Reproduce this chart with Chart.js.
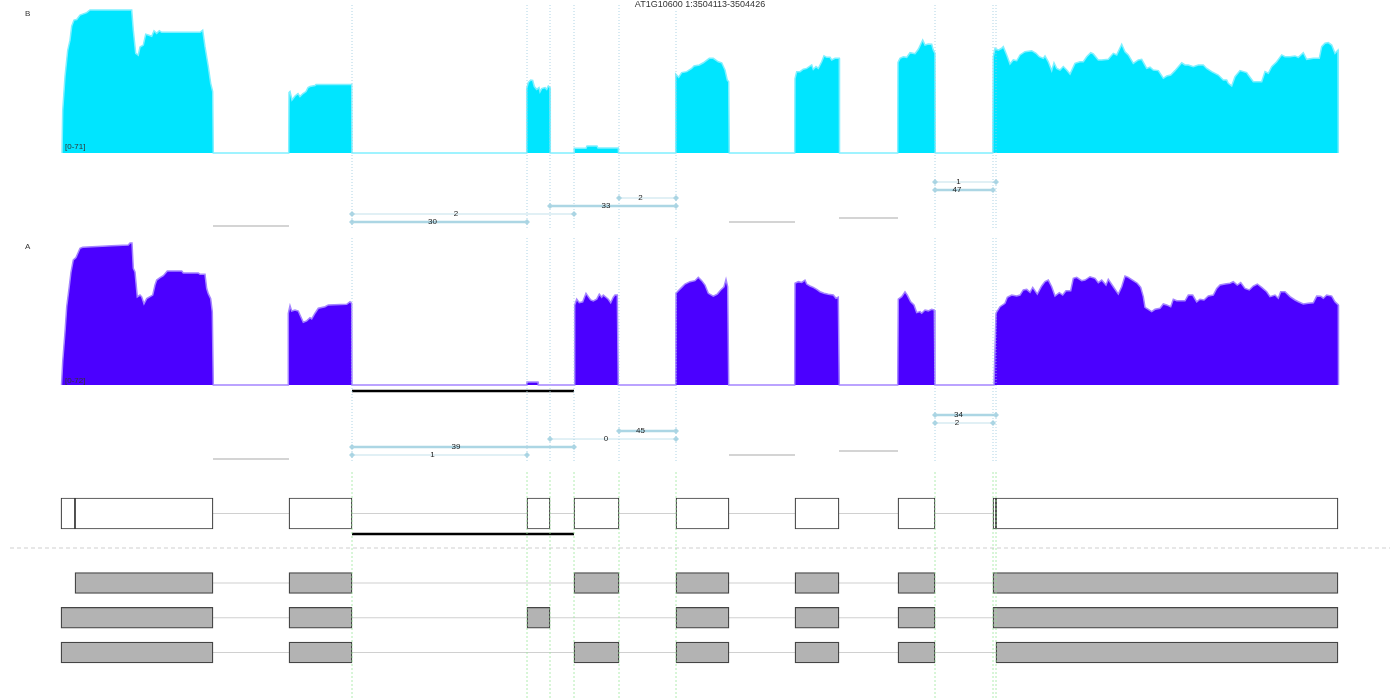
<!DOCTYPE html>
<html><head><meta charset="utf-8">
<script src="https://cdn.jsdelivr.net/npm/chart.js@4"></script>
<style>html,body{margin:0;padding:0;background:#fff}#wrap{position:relative;width:1400px;height:700px}</style>
</head><body><div id="wrap"><canvas id="c" width="1400" height="700"></canvas></div>
<script>
// ---------------- DATA ----------------
const titleText = 'AT1G10600 1:3504113-3504426';
const trackNames = ['B', 'A'];
const trackRanges = ['[0-71]', '[0-72]'];

// coverage profiles: [position, depth]
const covB = [
[62,0],[62.7,21],[65,38],[67.7,51],[70,56],[71.7,63],[74,66],[76.7,66.3],[80,68.5],[86.7,69.7],[90,71],[131.7,71],[133.3,61],[135.7,49.5],[138.3,48.6],[140,52.6],[143.3,53.6],[145.7,59],[148.3,58.6],[151.7,58],[154,60.7],[156.7,59.4],[159.3,60.7],[161.7,59.9],[200,59.9],[202.7,61],[205,52.8],[208.3,42.9],[210.7,34.6],[212.7,30.5],[213.3,0],
[288.7,0],[289,30],[290,30.5],[292,26.3],[295,28.3],[298,29.5],[300,28],[303,29.5],[306,30.5],[308,32.5],[310,33],[315,33.5],[316,34],[351.7,34],[352,0],
[526.5,0],[526.7,32],[528.3,35],[530.7,36.2],[532.7,36],[534.3,33],[536.7,31.6],[539,32.5],[540,30.4],[541.7,32],[545,32.5],[546.7,31.6],[548.3,33.3],[550,32.5],[550.3,0],
[574,0],[574.2,2.3],[586,2.3],[587,3.5],[597,3.5],[598,2.5],[618.3,2.5],[618.5,0],
[675.5,0],[675.7,39.2],[678.7,37.6],[681.7,39.9],[686.7,40.4],[691.7,42],[694,43.2],[699.3,43.7],[703.3,44.8],[709.3,47],[713.3,47],[718.3,45.3],[721.7,44.8],[725,41.2],[727.3,36.2],[728.7,35.4],[729.3,0],
[794.7,0],[795,37],[796.7,40.4],[800,40.4],[803.3,41.6],[806.7,42],[811.7,43.7],[813.3,41.5],[816,42.9],[818.3,42],[821.7,45.3],[824,48.2],[826.7,47.5],[830,47.5],[831.7,46.2],[835,47],[839.3,47],[839.5,0],
[897.7,0],[898,45],[900,47],[903.3,47.8],[906.7,47.5],[910,49.8],[915,49.3],[918.3,51.5],[922.7,56.1],[925,53.6],[928.3,54.1],[931.7,54],[933.3,51.1],[935,49.5],[935.3,0],
[992.7,0],[993.3,47.8],[995,52],[998.3,51.1],[1001.7,52],[1003.3,52.8],[1006.7,48.7],[1010,44.2],[1013.3,46.2],[1016.7,45.8],[1020,48.7],[1025,50.3],[1031.7,50.8],[1036,49.5],[1039.3,47.8],[1043.3,47],[1045,48.2],[1048.3,45.3],[1051.7,40.9],[1054,44.8],[1056.7,42],[1060,41.2],[1063.3,42.9],[1066.7,41.2],[1070,39.2],[1075,44.5],[1080,45.3],[1083.3,45.3],[1086.7,47.8],[1090.7,49.8],[1093.3,49.2],[1098.3,46.2],[1101.7,46.2],[1108.3,46.5],[1113.3,49.5],[1116.7,48.7],[1121.7,54],[1125,50.3],[1128.3,48.7],[1133.3,44.5],[1138.3,46.2],[1141.7,46.5],[1146.7,42],[1150,42.6],[1153.3,41.2],[1158.3,40.9],[1163.3,37.1],[1166.7,38.2],[1170.7,38.7],[1175,40.9],[1181.7,44.8],[1185,43.7],[1188.3,43.7],[1193.3,42.9],[1198.3,43.7],[1203.3,43.7],[1206.7,42],[1211.7,40.4],[1218.3,38.7],[1223.3,36.2],[1226.7,36.2],[1228.3,34.6],[1231.7,33.3],[1235,37.9],[1240,40.9],[1246.7,39.9],[1248.3,38.7],[1253.3,35.4],[1261.7,35.4],[1265,40.4],[1268.3,39.6],[1271.7,42.9],[1276.7,45.3],[1281.7,48.7],[1285,47.8],[1290,47.8],[1295,48.2],[1298.3,47.5],[1303.3,49.8],[1306.7,46.5],[1313.3,47],[1319.3,47],[1321.7,52.8],[1325,54.5],[1328.3,54.8],[1331.7,53.6],[1335,49.5],[1338,51.1],[1338.3,0]
];
const covA = [
[61.5,0],[62.7,11.8],[65,26.9],[66.7,39.6],[69,48.9],[71,57.3],[73.3,63.4],[76,64.6],[80,69.3],[82.7,69.8],[111.7,70.6],[128.3,71],[130,72],[132,72],[133.3,59.2],[135,57.3],[137.3,44.7],[140,45.6],[141.7,44.7],[144,41.2],[146.7,43.8],[152.7,45.6],[155,50.7],[156.7,53.2],[160,54.4],[163.3,55.4],[167.3,57.8],[181.7,57.8],[183.3,56.8],[198.3,56.8],[200,56.1],[205,56.1],[206.7,48.9],[208.3,46.3],[210.7,43.8],[212.3,37.1],[213.3,0],
[288,0],[288.3,36.4],[290,40.2],[291.7,37.5],[295,38],[298.3,37.5],[300,35.5],[303.3,31.8],[306.7,32.5],[310,34.1],[311.7,33.5],[315,36.4],[318.3,38.9],[325,39.7],[328.3,40.6],[346.7,40.9],[350,42.2],[351.7,41.4],[352,0],
[526.7,0],[527,1.5],[538,1.5],[538.3,0],
[574.3,0],[574.7,40.6],[576.7,43.5],[579.3,41.7],[582.7,42.2],[586,46.5],[588.3,44.8],[590.7,43.1],[593.3,42.6],[596.7,43.5],[599.3,46.1],[601.7,44.5],[603.3,45.6],[606,44.5],[608.3,43.5],[610.7,41.7],[613.3,44.5],[615,45.6],[617.3,45.6],[618.3,0],
[675.7,0],[676,46.5],[678.3,47.8],[681.7,49.5],[685,51.2],[690,52.4],[695,52.9],[698.3,54.6],[701.7,52.9],[705,50.7],[708.3,46.5],[713.3,45.1],[717.3,46.1],[720.7,48.2],[724,49.8],[726,53.6],[727.7,49.8],[728.7,0],
[794.7,0],[795,51.6],[798.3,52.4],[801.7,52],[805,53.2],[806.7,51.2],[810,50.2],[813.3,49.5],[816.7,48.5],[820,47.3],[824,46.5],[828.3,46],[833.3,45.6],[836,44],[838.3,44.5],[839.3,0],
[897.7,0],[898.3,43.5],[901.7,44.8],[905,47.3],[907.3,45.6],[910.7,42.2],[914,40.6],[916.7,36.7],[920,37.2],[921.7,36.4],[925,38],[928.3,37.6],[931.7,38.4],[934.3,38],[935,0],
[994,0],[996,36.4],[1000,39.7],[1005,41.4],[1007.3,44.5],[1011.7,45.6],[1016.7,45.1],[1020,45.6],[1023.3,48.2],[1026.7,48.5],[1030,47],[1032.7,49.5],[1037.3,46.1],[1041.7,50.2],[1045,52.4],[1048.3,53.2],[1051.7,49.8],[1055,45.1],[1059.3,46.8],[1062.7,45.6],[1066,47.8],[1070.7,47.8],[1073.3,54.1],[1076.7,54.6],[1081.7,52.9],[1085,53.2],[1090,54.9],[1095,54.1],[1098.3,51.9],[1101.7,53.2],[1106,50.7],[1108.3,53.6],[1113.3,49.8],[1118.3,46.1],[1121.7,49.8],[1125,55.3],[1128.3,54.6],[1133.3,52.9],[1137.3,51.6],[1140.7,49.5],[1143.3,44.8],[1145,39.4],[1148.3,38.4],[1151.7,37.2],[1155,38.4],[1160,38.9],[1163.3,41.1],[1166.7,40.6],[1170.7,39.7],[1173.3,43.5],[1176.7,42.7],[1185,42.7],[1188.3,45.6],[1192.7,45.6],[1196.7,42.2],[1200,43.5],[1204,43.1],[1208.3,45.1],[1213.3,45.6],[1216.7,49],[1220,50.7],[1225,51.2],[1230,51.6],[1233.3,52.4],[1237.3,50.7],[1240.7,51.9],[1245,49],[1249.3,48.2],[1253.3,50.2],[1257.3,51.2],[1261.7,49.5],[1266.7,47.3],[1270,44.8],[1275,45.6],[1278.3,44],[1280.7,47.3],[1285,47.3],[1290,44.8],[1295,43.1],[1298.3,42.2],[1303.3,41.1],[1308.3,41.4],[1313.3,41.7],[1316.7,45.1],[1320.7,45],[1323.3,44],[1326.7,45.6],[1331.7,45.1],[1335,42.2],[1338.3,40.6],[1338.5,0]
];

// splice junctions (listed top level to bottom level) and read counts per sample
const junctions = [[935,996],[935,993],[619,676],[550,676],[352,574],[352,527]];
const juncCountsB = [1, 47, 2, 33, 2, 30];
const juncCountsA = [34, 2, 45, 0, 39, 1];
// unsupported intron placeholders in junction tracks
const gapIntrons = [[213,289],[729,795],[839,898]];
const gapLevels = [5.5, 5.0, 4.5];

// gene model and transcripts (exon [start,end])
const modelExons = [[61,75],[75,213],[289,352],[527,550],[574,619],[676,729],[795,839],[898,935],[993,996],[996,1338]];
const transcripts = [
  [[75,213],[289,352],[574,619],[676,729],[795,839],[898,935],[993,1338]],
  [[61,213],[289,352],[527,550],[676,729],[795,839],[898,935],[993,1338]],
  [[61,213],[289,352],[574,619],[676,729],[795,839],[898,935],[996,1338]]
];
const eventRegion = [352, 574];
const guidePositions = [352,527,550,574,619,676,935,993,996];

// ---------------- LAYOUT ----------------
const W = 1400, H = 700;
// hidden axis spanning the full canvas such that value vA sits at pixel pxA and vB at pxB
function band(pxA, vA, pxB, vB) {
  const k = (pxB - pxA) / (vB - vA);
  const v0 = vA - pxA / k, vH = vA + (H - pxA) / k;
  if (k < 0) return {min: vH, max: v0, reverse: false};
  return {min: v0, max: vH, reverse: true};
}
const hidden = b => Object.assign({type: 'linear', axis: 'y', display: false, bounds: 'data', grace: 0, offset: false, beginAtZero: false, ticks: {stepSize: 1000}}, b);

const scales = {
  x: {type: 'linear', axis: 'x', display: false, min: 0, max: W, bounds: 'data', offset: false, beginAtZero: false, grace: 0},
  yCovB: hidden(band(153, 0, 10, 71)),
  yCovA: hidden(band(385, 0, 243, 72)),
  yJuncB: hidden(band(182, 0, 222, 5)),
  yJuncA: hidden(band(415, 0, 455, 5)),
  yTx: hidden(band(513.5, -2, 652.5, 2)),
  yPage: hidden(band(0, 0, 700, 700))
};

const pts = arr => arr.map(p => ({x: p[0], y: p[1]}));
const datasets = [];

// guides
const guideSections = [[5, 229, 'rgba(160,205,225,0.85)', [1, 2]], [238, 462, 'rgba(160,205,225,0.85)', [1, 2]], [472, 700, 'rgba(150,230,150,0.75)', [2, 2]]];
guideSections.forEach(([t, b, col, dash]) => {
  const d = [];
  guidePositions.forEach(x => { d.push({x, y: t}, {x, y: b}, {x, y: null}); });
  datasets.push({type: 'line', data: d, xAxisID: 'x', yAxisID: 'yPage', borderColor: col, borderWidth: 1, borderDash: dash, pointRadius: 0, spanGaps: false, order: 0});
});

// coverage
datasets.push({type: 'line', data: pts(covB), xAxisID: 'x', yAxisID: 'yCovB', fill: 'origin', backgroundColor: '#00e5ff', borderColor: '#80f0ff', borderWidth: 1.5, pointRadius: 0, tension: 0, order: 8});
datasets.push({type: 'line', data: pts(covA), xAxisID: 'x', yAxisID: 'yCovA', fill: 'origin', backgroundColor: '#4b00ff', borderColor: '#a585ff', borderWidth: 1.5, pointRadius: 0, tension: 0, order: 8});

// junction tracks
[['yJuncB', juncCountsB], ['yJuncA', juncCountsA]].forEach(([axis, counts]) => {
  gapIntrons.forEach((g, i) => {
    datasets.push({type: 'line', data: [{x: g[0], y: gapLevels[i]}, {x: g[1], y: gapLevels[i]}], xAxisID: 'x', yAxisID: axis, borderColor: '#d4d4d4', borderWidth: 2, pointRadius: 0, order: 5});
  });
  junctions.forEach((j, lvl) => {
    const c = counts[lvl];
    datasets.push({type: 'line', data: [{x: j[0], y: lvl}, {x: j[1], y: lvl}], xAxisID: 'x', yAxisID: axis,
      borderColor: c >= 10 ? '#acd6e4' : '#c4e2ec', borderWidth: Math.min(2.5, 1 + c / 10),
      pointStyle: 'rectRot', pointRadius: 3, pointBackgroundColor: '#acd6e4', pointBorderColor: '#acd6e4', pointBorderWidth: 0, order: 3});
  });
});

// intron lines
const allRows = [modelExons].concat(transcripts);
allRows.forEach((ex, r) => {
  const row = r === 0 ? -2 : r - 1;
  datasets.push({type: 'line', data: [{x: ex[0][0], y: row}, {x: ex[ex.length - 1][1], y: row}], xAxisID: 'x', yAxisID: 'yTx', borderColor: '#d0d0d0', borderWidth: 1.2, pointRadius: 0, order: 6});
});
// exon boxes
datasets.push({type: 'bar', indexAxis: 'y', xAxisID: 'x', yAxisID: 'yTx', data: modelExons.map(e => ({x: e, y: -2})),
  backgroundColor: '#ffffff', borderColor: '#3a3a3a', borderWidth: 1.2, borderSkipped: false, barThickness: 31, grouped: false, order: 4});
datasets.push({type: 'bar', indexAxis: 'y', xAxisID: 'x', yAxisID: 'yTx', data: transcripts.flatMap((t, r) => t.map(e => ({x: e, y: r}))),
  backgroundColor: '#b3b3b3', borderColor: '#444444', borderWidth: 1.3, borderSkipped: false, barThickness: 21, grouped: false, order: 4});

// highlighted event region (below sample A coverage and below the gene model)
[391, 534].forEach(y => {
  datasets.push({type: 'line', data: [{x: eventRegion[0], y}, {x: eventRegion[1], y}], xAxisID: 'x', yAxisID: 'yPage', borderColor: '#000', borderWidth: 2.5, pointRadius: 0, order: 1});
});
// separator between gene model and transcripts
datasets.push({type: 'line', data: [{x: 10, y: 548}, {x: 1390, y: 548}], xAxisID: 'x', yAxisID: 'yPage', borderColor: '#cfcfcf', borderWidth: 1, borderDash: [4, 3], pointRadius: 0, order: 1});

// ---------------- TEXT ----------------
const FONT = '"Liberation Sans", Arial, sans-serif';
const textPlugin = {
  id: 'texts',
  afterDatasetsDraw(chart) {
    const ctx = chart.ctx, sx = chart.scales.x;
    ctx.save();
    ctx.textBaseline = 'middle';
    ctx.font = '9px ' + FONT;
    ctx.textAlign = 'center';
    const tw = ctx.measureText(titleText).width;
    ctx.fillStyle = '#fff';
    ctx.fillRect(700 - tw / 2 - 2, 0, tw + 4, 10);
    ctx.fillStyle = '#333';
    ctx.fillText(titleText, 700, 5);
    ctx.font = '8px ' + FONT;
    ctx.textAlign = 'left';
    ctx.fillText(trackNames[0], 25, 14);
    ctx.fillText(trackNames[1], 25, 247);
    ctx.fillText(trackRanges[0], 65, 147);
    ctx.fillText(trackRanges[1], 65, 381);
    ctx.textAlign = 'center';
    ctx.fillStyle = '#222';
    [['yJuncB', juncCountsB], ['yJuncA', juncCountsA]].forEach(([axis, counts]) => {
      const sy = chart.scales[axis];
      junctions.forEach((j, lvl) => {
        ctx.fillText(String(counts[lvl]), sx.getPixelForValue((j[0] + j[1]) / 2) - 7, sy.getPixelForValue(lvl));
      });
    });
    ctx.restore();
  }
};

new Chart(document.getElementById('c'), {
  type: 'line',
  data: {datasets},
  options: {
    responsive: false, devicePixelRatio: 1, animation: false, events: [],
    layout: {padding: 0, autoPadding: false},
    scales,
    plugins: {legend: {display: false}, tooltip: {enabled: false}, title: {display: false}}
  },
  plugins: [textPlugin]
});
</script></body></html>
